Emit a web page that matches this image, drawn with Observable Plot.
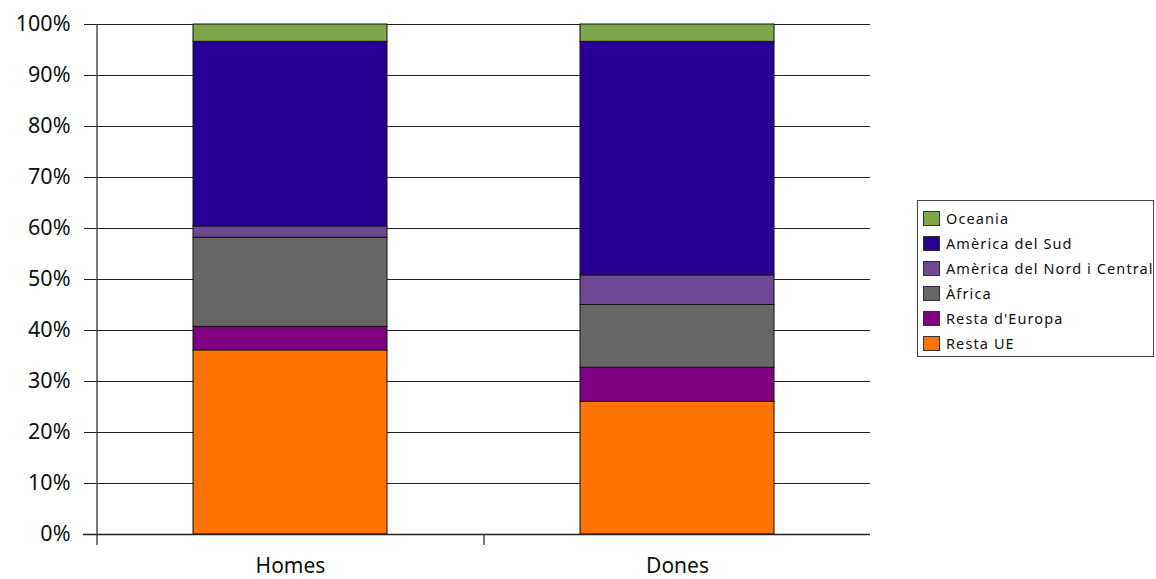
<!DOCTYPE html>
<html>
<head>
<meta charset="utf-8">
<script src="https://cdn.jsdelivr.net/npm/d3@7"></script>
<script src="https://cdn.jsdelivr.net/npm/@observablehq/plot@0.6"></script>
<style>
  body { margin: 0; background: #fff; }
  #wrap { position: relative; width: 1156px; height: 579px; font-family: "Noto Sans", sans-serif; }
  #legend { position: absolute; left: 917px; top: 200px; width: 235px; height: 155px; border: 1px solid #444; background: #fff; }
  .item { position: absolute; left: 5px; height: 18px; display: flex; align-items: center; font-size: 14.5px; letter-spacing: 1.1px; white-space: nowrap; color: #111; }
  .sw { width: 17px; height: 15px; border: 1px solid #333; margin-right: 6px; box-sizing: border-box; }
</style>
</head>
<body>
<div id="wrap"></div>
<script>
const sexes = ["Homes", "Dones"];
// stacking order, bottom to top
const regions = ["Resta UE", "Resta d'Europa", "Àfrica", "Amèrica del Nord i Central", "Amèrica del Sud", "Oceania"];
const colors = ["#ff7300", "#800080", "#666666", "#6e4894", "#280096", "#7fa64b"];
const homes = [36.1, 4.6, 17.5, 2.2, 36.2, 3.4];
const dones = [26.0, 6.7, 12.3, 5.8, 45.8, 3.4];
const yTicks = [0, 0.1, 0.2, 0.3, 0.4, 0.5, 0.6, 0.7, 0.8, 0.9, 1.0];

const data = [];
regions.forEach((r, i) => {
  data.push({sex: "Homes", region: r, value: homes[i]});
  data.push({sex: "Dones", region: r, value: dones[i]});
});

const W = 1156, H = 579;
const mL = 96, mR = 286;
const step = (W - mL - mR) / 2; // band step with paddingInner .5 / paddingOuter .25

const chart = Plot.plot({
  width: W,
  height: H,
  marginLeft: mL,
  marginRight: mR,
  marginTop: 24,
  marginBottom: 45,
  style: {fontFamily: "'Noto Sans', sans-serif", background: "#fff", color: "#111"},
  x: {domain: sexes, paddingInner: 0.5, paddingOuter: 0.25, label: null},
  y: {domain: [0, 1], label: null},
  color: {domain: regions, range: colors},
  marks: [
    Plot.ruleY(yTicks, {y: d => d, stroke: "#222", strokeWidth: 1, insetLeft: -12}),
    Plot.barY(data, Plot.stackY({
      x: "sex", y: "value", fill: "region", order: regions, offset: "normalize",
      stroke: "#111", strokeWidth: 1
    })),
    Plot.ruleX(["Homes"], {x: d => d, dx: -step / 2, y1: 1, y2: 0, stroke: "#333", strokeWidth: 1.3, insetBottom: -11}),
    Plot.ruleX(["Dones"], {x: d => d, dx: -step / 2, y1: 0, y2: 0, stroke: "#333", strokeWidth: 1.3, insetBottom: -11}),
    Plot.ruleY([0], {stroke: "#222", strokeWidth: 1.5, insetLeft: -13}),
    Plot.axisY({ticks: yTicks, tickFormat: d3.format(".0%"), tickSize: 0, tickPadding: 26, fontSize: 21.5, label: null}),
    Plot.axisX({tickSize: 0, tickPadding: 24, fontSize: 21, label: null})
  ]
});

const wrap = document.getElementById("wrap");
wrap.appendChild(chart);

// legend (top to bottom: reverse of stack order)
const legend = document.createElement("div");
legend.id = "legend";
const order = regions.map((r, i) => ({r, c: colors[i]})).reverse();
order.forEach((d, k) => {
  const it = document.createElement("div");
  it.className = "item";
  it.style.top = (8 + k * 25) + "px";
  const sw = document.createElement("span");
  sw.className = "sw";
  sw.style.background = d.c;
  const tx = document.createElement("span");
  tx.textContent = d.r;
  it.appendChild(sw);
  it.appendChild(tx);
  legend.appendChild(it);
});
wrap.appendChild(legend);
</script>
</body>
</html>
